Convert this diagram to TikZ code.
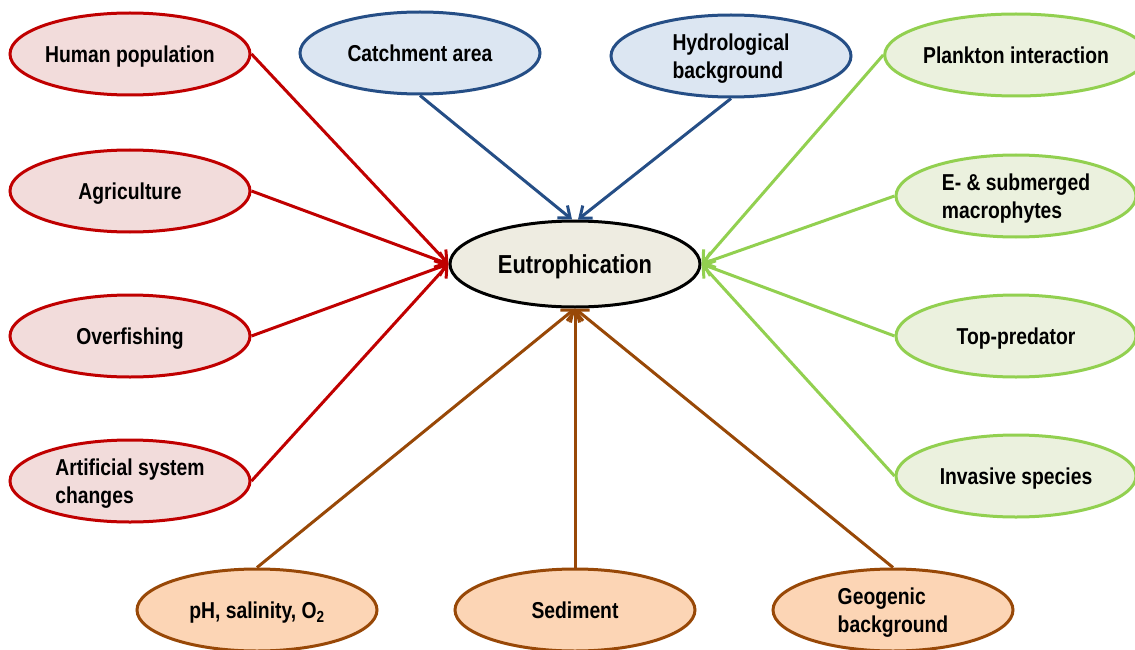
\documentclass[tikz,border=0pt]{standalone}
\usepackage{fontspec}
\setmainfont{Liberation Sans}[FakeStretch=0.84]
\usetikzlibrary{shapes.geometric,arrows.meta}
\definecolor{redline}{HTML}{C00000}
\definecolor{redfill}{HTML}{F2DCDB}
\definecolor{blueline}{HTML}{254E86}
\definecolor{bluefill}{HTML}{DCE6F2}
\definecolor{greenline}{HTML}{92D050}
\definecolor{greenfill}{HTML}{EBF1DE}
\definecolor{brownline}{HTML}{984807}
\definecolor{brownfill}{HTML}{FCD5B5}
\definecolor{eutfill}{HTML}{EEECE1}
\tikzset{
  ell/.style={ellipse, inner sep=0pt, minimum width=240pt, minimum height=82pt,
    line width=3pt, align=left, text depth=0pt, font=\fontsize{23}{28.5}\selectfont\bfseries},
  oneline/.style={text height=17pt},
  redell/.style={ell, draw=redline, fill=redfill},
  blueell/.style={ell, draw=blueline, fill=bluefill},
  greenell/.style={ell, draw=greenline, fill=greenfill},
  brownell/.style={ell, draw=brownline, fill=brownfill},
  eutell/.style={ellipse, inner sep=0pt, minimum width=250pt, minimum height=86pt,
    line width=3pt, draw=black, fill=eutfill, text height=19pt, text depth=0pt,
    font=\fontsize{26}{30}\selectfont\bfseries},
  conn/.style={line width=3pt, -{Straight Barb[length=10pt,width=16pt]}},
}
\begin{document}
\begin{tikzpicture}[x=1pt,y=-1pt]
\useasboundingbox (0,0) rectangle (1135,650);
\node[eutell] (eut) at (575,264) {Eutrophication};
% left
\node[redell, oneline] (hp) at (130,54) {Human population};
\node[redell, oneline] (agr) at (130,191) {Agriculture};
\node[redell, oneline] (ovf) at (130,336) {Overfishing};
\node[redell] (art) at (130,481) {Artificial system\\changes};
% top
\node[blueell, oneline] (cat) at (420,53) {Catchment area};
\node[blueell] (hyd) at (731,56) {Hydrological\\background};
% right
\node[greenell, oneline] (pla) at (1016,55) {Plankton interaction};
\node[greenell] (mac) at (1016,196) {E- \& submerged\\macrophytes};
\node[greenell, oneline] (top) at (1016,336) {Top-predator};
\node[greenell, oneline] (inv) at (1016,476) {Invasive species};
% bottom
\node[brownell, oneline] (ph) at (257,610) {pH, salinity, O\textsubscript{2}};
\node[brownell, oneline] (sed) at (575,610) {Sediment};
\node[brownell] (geo) at (893,610) {Geogenic\\background};
% connectors
\foreach \n in {hp,agr,ovf,art}
  \draw[conn, redline] (\n.east) -- (eut.west);
\draw[conn, blueline] (cat.south) -- ([xshift=-3pt]eut.north);
\draw[conn, blueline] (hyd.south) -- ([xshift=3pt]eut.north);
\foreach \n in {pla,mac,top,inv}
  \draw[conn, greenline] (\n.west) -- (eut.east);
\foreach \n in {ph,sed,geo}
  \draw[conn, brownline] (\n.north) -- (eut.south);
\end{tikzpicture}
\end{document}
